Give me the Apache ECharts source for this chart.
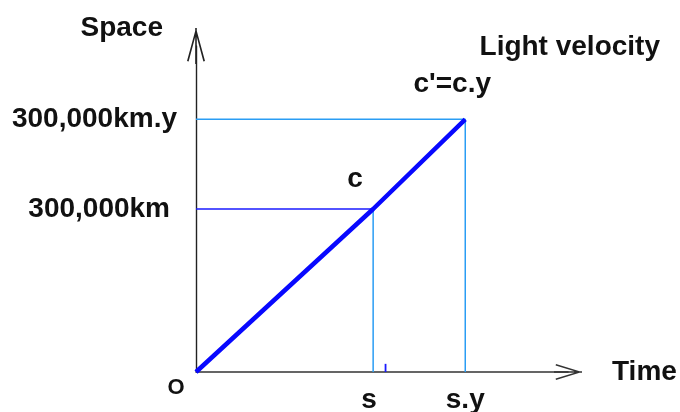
<!DOCTYPE html>
<html>
<head>
<meta charset="utf-8">
<script src="https://cdn.jsdelivr.net/npm/echarts@6/dist/echarts.min.js"></script>
<style>
html, body { margin: 0; padding: 0; background: #fff; }
#chart { width: 680px; height: 412px; }
</style>
</head>
<body>
<div id="chart"></div>
<script>
// time in units of s, space in units of 300,000 km
var lightPath = [[0, 0], [1, 1], [1.52, 1.55]];
var guideC = [[0, 1], [1, 1]];
var guideS = [[1, 1], [1, 0]];
var guideCY = [[0, 1.55], [1.52, 1.55], [1.52, 0]];
var smallTick = [[1.07, 0], [1.07, 0.05]];
var xTickValues = [1, 1.52];
var xTickLabels = ['s', 's.y'];
var yTickValues = [1, 1.55];
var yTickLabels = ['300,000km', '300,000km.y'];
var pointLabels = ['O', 'c', "c'=c.y"];

var FONT = 'Liberation Sans';
var txt = { fontFamily: FONT, fontWeight: 'bold', fontSize: 28, color: '#111' };
var labelOffsets = [[-20, 16], [-18, -30], [-13, -35]];
var labelSizes = [22, 28, 28];

var chart = echarts.init(document.getElementById('chart'));

var option = {
    animation: false,
    backgroundColor: '#fff',
    title: {
        text: 'Light velocity',
        right: 15,
        top: 28,
        textStyle: txt
    },
    grid: {
        left: 196,
        top: 46,
        width: 372,
        height: 326,
        outerBoundsMode: 'none'
    },
    xAxis: {
        type: 'value',
        min: 0,
        max: 2.1,
        name: 'Time',
        nameLocation: 'end',
        nameGap: 44,
        nameTextStyle: Object.assign({}, txt, { align: 'left', verticalAlign: 'middle', padding: [0, 0, 8, 0] }),
        axisLine: {
            show: true,
            onZero: false,
            lineStyle: { color: '#333', width: 1.6 },
            symbol: ['none', 'path://M8,0 L16,26 L14.5,26.4 L8,5 L1.5,26.4 L0,26 Z M7.2,0 L8.8,0 L8.8,28 L7.2,28 Z'],
            symbolSize: [16, 28]
        },
        axisTick: { show: false },
        splitLine: { show: false },
        axisLabel: Object.assign({}, txt, {
            customValues: xTickValues,
            margin: 14,
            formatter: function (v) {
                var i = xTickValues.indexOf(v);
                return i === 0 ? '{a|' + xTickLabels[i] + '}' : xTickLabels[i];
            },
            rich: { a: Object.assign({}, txt, { padding: [0, 8, 0, 0] }) }
        })
    },
    yAxis: {
        type: 'value',
        min: 0,
        max: 2,
        name: 'Space',
        nameLocation: 'end',
        nameGap: 4,
        nameTextStyle: Object.assign({}, txt, { align: 'right', verticalAlign: 'bottom', padding: [0, 33, 0, 0] }),
        axisLine: {
            show: true,
            onZero: false,
            lineStyle: { color: '#222', width: 1.4 },
            symbol: ['none', 'path://M9,0 L18,33 L16.4,33.4 L9,6 L1.6,33.4 L0,33 Z M8.2,0 L9.8,0 L9.8,36 L8.2,36 Z'],
            symbolSize: [18, 36]
        },
        axisTick: { show: false },
        splitLine: { show: false },
        axisLabel: Object.assign({}, txt, {
            customValues: yTickValues,
            margin: 19,
            formatter: function (v) {
                var i = yTickValues.indexOf(v);
                return i === 0 ? '{a|' + yTickLabels[i] + '}' : yTickLabels[i];
            },
            rich: { a: Object.assign({}, txt, { padding: [0, 7, 0, 0] }) }
        })
    },
    series: [
        {
            type: 'line', data: guideCY, showSymbol: false, z: 2,
            lineStyle: { color: '#2a9df4', width: 1.5 }
        },
        {
            type: 'line', data: guideS, showSymbol: false, z: 2,
            lineStyle: { color: '#2a9df4', width: 1.5 }
        },
        {
            type: 'line', data: guideC, showSymbol: false, z: 2,
            lineStyle: { color: '#1a1aff', width: 1.5 }
        },
        {
            type: 'line', data: smallTick, showSymbol: false, z: 2,
            lineStyle: { color: '#1a1aff', width: 1.8 }
        },
        {
            type: 'line', data: lightPath, showSymbol: false, z: 5,
            lineStyle: { color: '#0808ff', width: 4.5 }
        },
        {
            type: 'scatter',
            z: 6,
            symbolSize: 1,
            itemStyle: { color: '#fff', opacity: 0 },
            data: lightPath.map(function (p, i) {
                return {
                    value: p,
                    label: Object.assign({}, txt, {
                        show: true,
                        position: 'inside',
                        fontSize: labelSizes[i],
                        offset: labelOffsets[i],
                        color: '#111',
                        opacity: 1,
                        textBorderWidth: 0,
                        formatter: pointLabels[i]
                    })
                };
            })
        }
    ]
};

chart.setOption(option);
</script>
</body>
</html>
